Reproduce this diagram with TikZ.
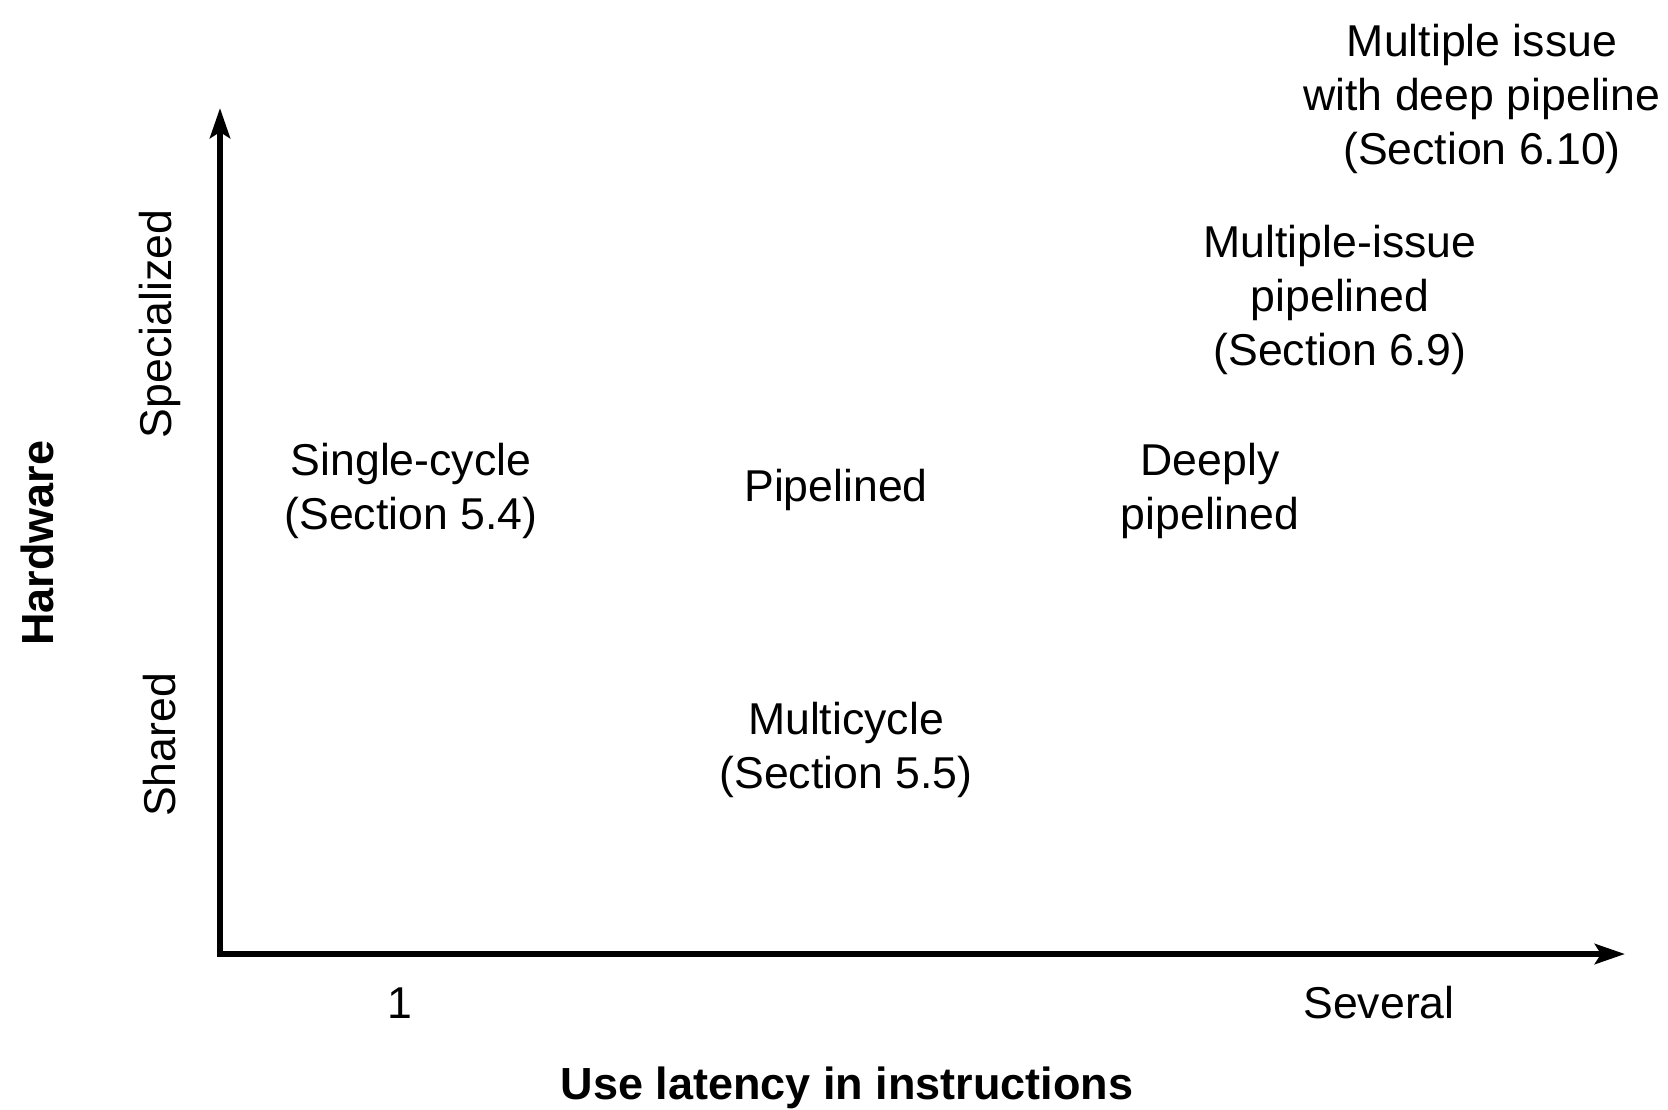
\documentclass[tikz,border=0pt]{standalone}
\usepackage{fontspec}
\setmainfont{Liberation Sans}
\usetikzlibrary{arrows.meta}
\begin{document}
\begin{tikzpicture}[x=0.5pt,y=-0.5pt,
  lbl/.style={font=\fontsize{22.3pt}{27pt}\selectfont, align=center, inner sep=0pt},
  boldlbl/.style={lbl, font=\fontsize{22.5pt}{27pt}\selectfont\bfseries},
  axis/.style={line width=3pt, line join=miter, {Stealth[length=15pt,width=10pt,inset=3pt]}-{Stealth[length=15pt,width=10pt,inset=3pt]}}]
\useasboundingbox (0,0) rectangle (1668,1109);
\coordinate (ytip) at (220,108);
\coordinate (orig) at (220,954);
\coordinate (xtip) at (1625,954);
\draw[axis] (ytip) -- (orig) -- (xtip);
\node[lbl] (mideep) at (1482,99) {Multiple issue\\with deep pipeline\\(Section 6.10)};
\node[lbl] (mipipe) at (1340,300) {Multiple-issue\\pipelined\\(Section 6.9)};
\node[lbl] (single) at (411,491) {Single-cycle\\(Section 5.4)};
\node[lbl] (pipe) at (836,490) {Pipelined};
\node[lbl] (deep) at (1210,491) {Deeply\\pipelined};
\node[lbl] (multi) at (846,750) {Multicycle\\(Section 5.5)};
\node[lbl] (one) at (400,1003) {1};
\node[lbl] (several) at (1379,1003) {Several};
\node[boldlbl] (xlab) at (847,1088) {Use latency in instructions};
\node[boldlbl, rotate=90] (ylab) at (37,543) {Hardware};
\node[lbl, rotate=90] (spec) at (160,324) {Specialized};
\node[lbl, rotate=90] (shared) at (160,745) {Shared};
\end{tikzpicture}
\end{document}
